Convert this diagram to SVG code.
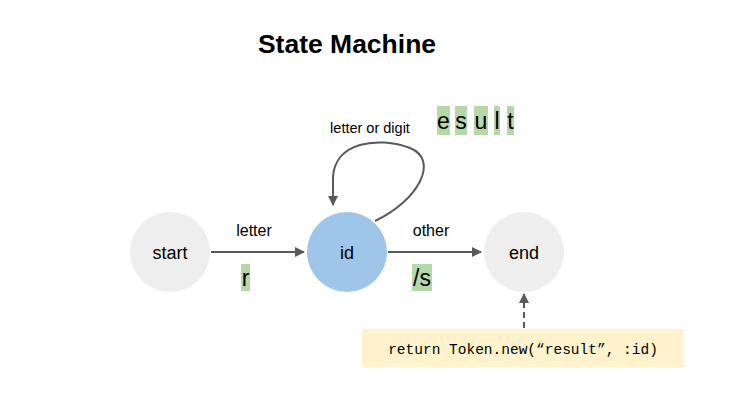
<svg xmlns="http://www.w3.org/2000/svg" width="736" height="417" viewBox="0 0 736 417">
<style>
text{font-family:"Liberation Sans",Arial,sans-serif;fill:#000}
.node{font-size:18px;text-anchor:middle}
.lbl{font-size:16px;text-anchor:middle}
.big{font-size:23px;text-anchor:middle}
.hl{fill:#b6d7a8}
.edge{fill:none;stroke:#595959;stroke-width:2}
</style>
<defs>
<marker id="ah2" viewBox="0 0 10 10" refX="9" refY="5" markerWidth="11" markerHeight="10" markerUnits="userSpaceOnUse" orient="auto">
<path d="M0,0 L10,5 L0,10 z" fill="#595959"/>
</marker>
</defs>
<rect width="736" height="417" fill="#fff"/>
<text x="347" y="53" style="font-size:26.5px;font-weight:bold;text-anchor:middle">State Machine</text>

<g id="connectors">
<line class="edge" x1="211" y1="252" x2="304" y2="252" marker-end="url(#ah2)"/>
<line class="edge" x1="388" y1="252" x2="481" y2="252" marker-end="url(#ah2)"/>
<path class="edge" d="M375,221 C418,201 440,160 410,148 C378,136 334,142 333,178 L333,205" marker-end="url(#ah2)"/>
<line class="edge" x1="524" y1="328" x2="524" y2="294" stroke-dasharray="6,4" marker-end="url(#ah2)"/>
<text class="lbl" x="254" y="236">letter</text>
<text class="lbl" x="431" y="236">other</text>
<text x="370" y="133" style="font-size:14.5px;text-anchor:middle">letter or digit</text>
</g>

<g id="start">
<circle cx="170" cy="252" r="40" fill="#eeeeee"/>
<text class="node" x="170" y="258.5">start</text>
</g>
<g id="id">
<circle cx="347" cy="252" r="40" fill="#9fc5e8"/>
<text class="node" x="347" y="258.5">id</text>
</g>
<g id="end">
<circle cx="524" cy="252" r="40" fill="#eeeeee"/>
<text class="node" x="524" y="258.5">end</text>
</g>

<g id="chars">
<rect class="hl" x="241" y="264" width="9" height="27"/>
<text class="big" x="245.5" y="286">r</text>
<rect class="hl" x="412" y="264" width="20" height="27"/>
<text class="big" x="422" y="286">/s</text>
<rect class="hl" x="437" y="106" width="13" height="29"/>
<text class="big" x="443.5" y="129">e</text>
<rect class="hl" x="455" y="106" width="12" height="29"/>
<text class="big" x="461" y="129">s</text>
<rect class="hl" x="474" y="106" width="14" height="29"/>
<text class="big" x="481" y="129">u</text>
<rect class="hl" x="494" y="106" width="6" height="29"/>
<text class="big" x="497" y="129">l</text>
<rect class="hl" x="507" y="106" width="7" height="29"/>
<text class="big" x="510.5" y="129">t</text>
</g>

<g id="code">
<rect x="362" y="329" width="322" height="38" fill="#fff2cc"/>
<text x="523" y="354" style="font-family:'Liberation Mono','DejaVu Sans Mono',monospace;font-size:14.5px;text-anchor:middle">return Token.new(“result”, :id)</text>
</g>
</svg>
